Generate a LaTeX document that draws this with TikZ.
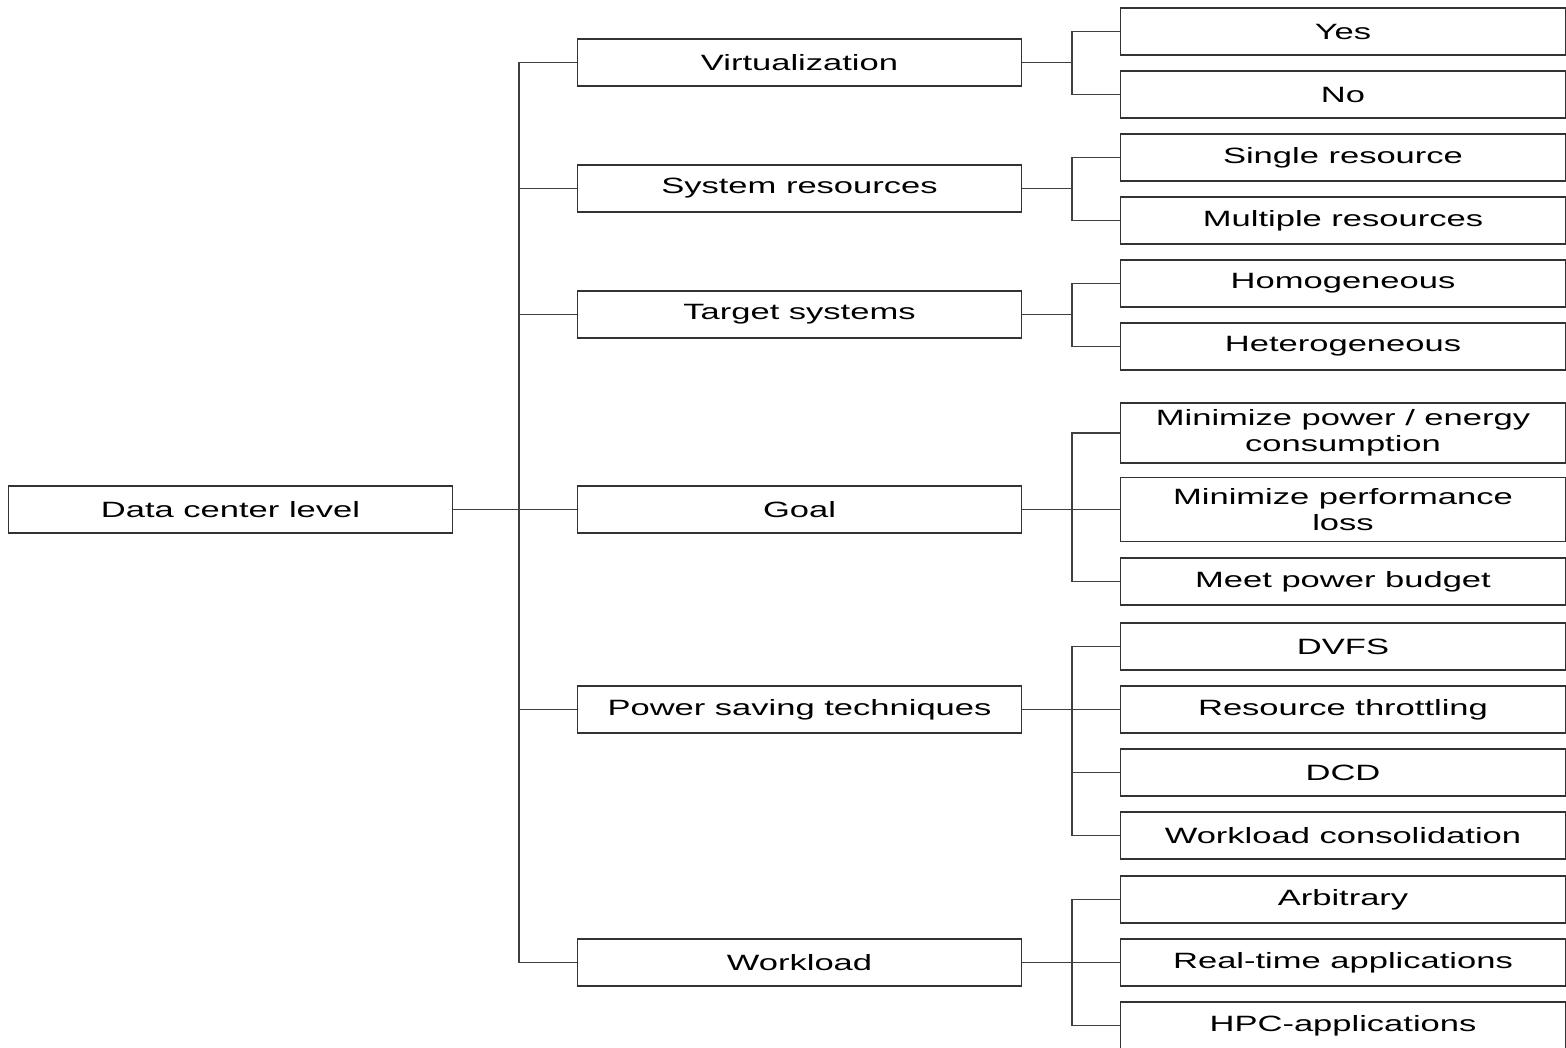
\documentclass[tikz,border=0pt]{standalone}
\usepackage{fontspec}
\setmainfont{Liberation Sans}[FakeStretch=1.56]
\usetikzlibrary{positioning}

\begin{document}
\begin{tikzpicture}[
    x=0.02cm, y=-0.02cm,
    box/.style={rectangle, draw=black!80, line width=0.6pt, minimum width=8.9cm, minimum height=0.94cm, inner sep=0pt, align=center, font=\fontsize{12.6}{14.8}\selectfont},
    link/.style={draw=black!75, line width=0.6pt}
]
    \useasboundingbox (0,0) rectangle (1566,1048);

    % root and second level
    \node[box] (root) at (230.5,509.5) {Data center level};
    \node[box] (virt) at (799.5,62.5) {Virtualization};
    \node[box] (sysres) at (799.5,188.5) {System resources};
    \node[box] (target) at (799.5,314.5) {Target systems};
    \node[box] (goal) at (799.5,509.5) {Goal};
    \node[box] (power) at (799.5,709.5) {Power saving techniques};
    \node[box] (work) at (799.5,962.5) {Workload};

    % leaves
    \node[box] (yes) at (1343,31.5) {Yes};
    \node[box] (no) at (1343,94.5) {No};
    \node[box] (single) at (1343,157.5) {Single resource};
    \node[box] (multi) at (1343,220.5) {Multiple resources};
    \node[box] (homog) at (1343,283.5) {Homogeneous};
    \node[box] (hetero) at (1343,346.5) {Heterogeneous};
    \node[box, minimum height=1.2cm] (minpow) at (1343,433) {Minimize power / energy\\consumption};
    \node[box, minimum height=1.28cm] (minperf) at (1343,509.5) {Minimize performance\\loss};
    \node[box] (budget) at (1343,581.5) {Meet power budget};
    \node[box] (dvfs) at (1343,646.5) {DVFS};
    \node[box] (throttle) at (1343,709.5) {Resource throttling};
    \node[box] (dcd) at (1343,772.5) {DCD};
    \node[box] (consol) at (1343,835.5) {Workload consolidation};
    \node[box] (arb) at (1343,899.5) {Arbitrary};
    \node[box] (rt) at (1343,962.5) {Real-time applications};
    \node[box] (hpc) at (1343,1025.5) {HPC-applications};

    % trunk
    \coordinate (trunk) at (519,509.5);
    \draw[link] (root) -- (trunk);
    \draw[link] (trunk) |- (virt);
    \draw[link] (trunk) |- (sysres);
    \draw[link] (trunk) |- (target);
    \draw[link] (trunk) -- (goal);
    \draw[link] (trunk) |- (power);
    \draw[link] (trunk) |- (work);

    % branches
    \coordinate (virtb) at (1072,62.5);
    \coordinate (sysresb) at (1072,188.5);
    \coordinate (targetb) at (1072,314.5);
    \coordinate (goalb) at (1072,509.5);
    \coordinate (powerb) at (1072,709.5);
    \coordinate (workb) at (1072,962.5);

    \draw[link] (virt) -- (virtb);
    \draw[link] (virtb) |- (yes);
    \draw[link] (virtb) |- (no);

    \draw[link] (sysres) -- (sysresb);
    \draw[link] (sysresb) |- (single);
    \draw[link] (sysresb) |- (multi);

    \draw[link] (target) -- (targetb);
    \draw[link] (targetb) |- (homog);
    \draw[link] (targetb) |- (hetero);

    \draw[link] (goal) -- (goalb);
    \draw[link] (goalb) |- (minpow);
    \draw[link] (goalb) -- (minperf);
    \draw[link] (goalb) |- (budget);

    \draw[link] (power) -- (powerb);
    \draw[link] (powerb) |- (dvfs);
    \draw[link] (powerb) -- (throttle);
    \draw[link] (powerb) |- (dcd);
    \draw[link] (powerb) |- (consol);

    \draw[link] (work) -- (workb);
    \draw[link] (workb) |- (arb);
    \draw[link] (workb) -- (rt);
    \draw[link] (workb) |- (hpc);
\end{tikzpicture}
\end{document}
